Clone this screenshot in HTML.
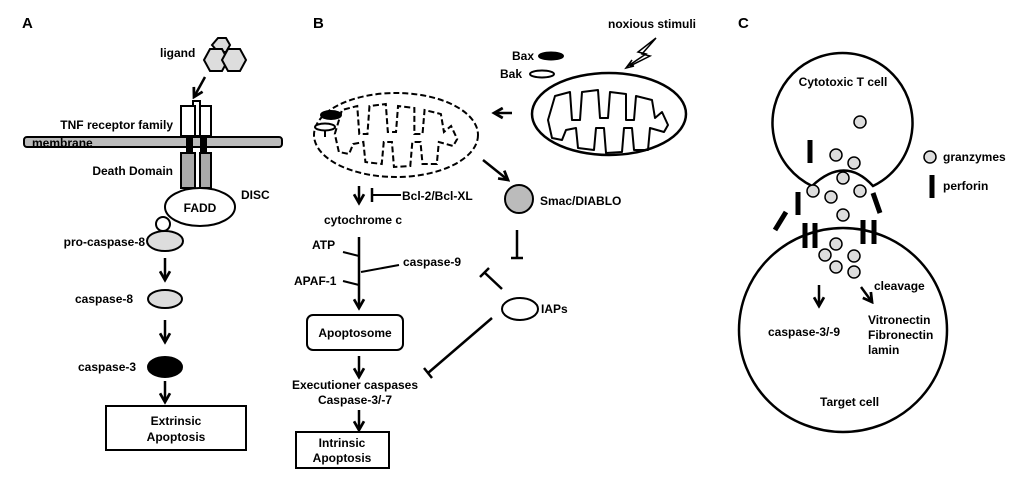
<!DOCTYPE html>
<html><head><meta charset="utf-8"><style>
html,body{margin:0;padding:0;background:#fff}
svg{display:block}
text{font-family:"Liberation Sans",Arial,sans-serif;font-weight:bold;fill:#000}
</style></head><body>
<svg width="1024" height="482" viewBox="0 0 1024 482" xmlns="http://www.w3.org/2000/svg" font-size="12">
<defs>
<marker id="ah" viewBox="0 0 10 10" refX="8" refY="5" markerWidth="5" markerHeight="5" orient="auto"><path d="M1,1 L8,5 L1,9" fill="none" stroke="#000" stroke-width="2.2"/></marker>
<path id="cr" d="M548,120 L555,96 L570,92 L572,120 L580,120 L582,92 L598,90 L600,118 L608,118 L610,92 L626,94 L626,120 L634,120 L636,96 L652,100 L655,118 L662,112 L668,125 L664,132 L650,128 L648,150 L634,150 L632,128 L624,128 L622,152 L606,153 L604,128 L596,128 L594,150 L578,148 L576,128 L566,130 L562,140 L552,138 Z"/>
</defs>
<g stroke="#000" stroke-width="2" fill="none">
<!-- Panel A -->
<polygon points="212,45 218,38 226,38 230,45 226,52 218,52" fill="#ddd"/>
<polygon points="204,60 210,49 222,49 228,60 222,71 210,71" fill="#ddd"/>
<polygon points="222,60 228,49 240,49 246,60 240,71 228,71" fill="#ddd"/>
<line x1="205" y1="77" x2="194" y2="97" stroke-width="2.5" marker-end="url(#ah)"/>
<rect x="193" y="101" width="7" height="35" fill="#fff"/>
<rect x="181" y="106" width="14" height="30" fill="#fff"/>
<rect x="200" y="106" width="11" height="30" fill="#fff"/>
<rect x="24" y="137" width="258" height="10" rx="3" fill="#bbb"/>
<rect x="187" y="136" width="5" height="17" fill="#000"/>
<rect x="201" y="136" width="5" height="17" fill="#000"/>
<rect x="181" y="153" width="14" height="35" fill="#aaa"/>
<rect x="200" y="153" width="11" height="35" fill="#aaa"/>
<ellipse cx="200" cy="207" rx="35" ry="19" fill="#fff"/>
<circle cx="163" cy="224" r="7" fill="#fff"/>
<ellipse cx="165" cy="241" rx="18" ry="10" fill="#ddd"/>
<line x1="165" y1="258" x2="165" y2="280" stroke-width="2.5" marker-end="url(#ah)"/>
<ellipse cx="165" cy="299" rx="17" ry="9" fill="#ddd"/>
<line x1="165" y1="320" x2="165" y2="342" stroke-width="2.5" marker-end="url(#ah)"/>
<ellipse cx="165" cy="367" rx="17" ry="10" fill="#000"/>
<line x1="165" y1="381" x2="165" y2="402" stroke-width="2.5" marker-end="url(#ah)"/>
<rect x="106" y="406" width="140" height="44" fill="#fff"/>

<!-- Panel B -->
<polygon points="656,38 638,52 646,54 628,66 632,60 626,68 634,66 630,66 650,56 642,54" stroke-width="1.5" fill="#fff"/>
<ellipse cx="551" cy="56" rx="12" ry="3.5" fill="#000"/>
<ellipse cx="542" cy="74" rx="12" ry="3.5" fill="#fff"/>
<ellipse cx="609" cy="114" rx="77" ry="41" fill="#fff" stroke-width="2.5"/>
<use href="#cr" stroke-width="2" stroke-linejoin="round"/>
<line x1="512" y1="113" x2="494" y2="113" stroke-width="2.5" marker-end="url(#ah)"/>
<ellipse cx="396" cy="135" rx="82" ry="42" fill="#fff" stroke-dasharray="6,3"/>
<g transform="translate(396,135) scale(1.02,1.0) translate(-608,-121)"><use href="#cr" stroke-dasharray="6,3" stroke-width="2"/></g>
<ellipse cx="331" cy="115" rx="10" ry="4" fill="#000"/>
<ellipse cx="325" cy="127" rx="10" ry="3.5" fill="#fff"/>
<line x1="325" y1="131" x2="325" y2="137"/>
<line x1="483" y1="160" x2="508" y2="180" stroke-width="2.5" marker-end="url(#ah)"/>
<circle cx="519" cy="199" r="14" fill="#bbb"/>
<line x1="359" y1="186" x2="359" y2="203" stroke-width="2.5" marker-end="url(#ah)"/>
<line x1="372" y1="188" x2="372" y2="202" stroke-width="2.5"/>
<line x1="372" y1="195" x2="401" y2="195"/>
<line x1="359" y1="237" x2="359" y2="308" stroke-width="2.5" marker-end="url(#ah)"/>
<line x1="343" y1="252" x2="359" y2="256"/>
<line x1="343" y1="281" x2="359" y2="285"/>
<line x1="399" y1="265" x2="361" y2="272"/>
<line x1="517" y1="230" x2="517" y2="258" stroke-width="2.5"/>
<line x1="511" y1="258" x2="523" y2="258" stroke-width="2.5"/>
<ellipse cx="520" cy="309" rx="18" ry="11" fill="#fff"/>
<line x1="502" y1="289" x2="485" y2="273" stroke-width="2.5"/>
<line x1="480" y1="277" x2="489" y2="268" stroke-width="2.5"/>
<line x1="492" y1="318" x2="428" y2="373" stroke-width="2.5"/>
<line x1="424" y1="368" x2="432" y2="378" stroke-width="2.5"/>
<rect x="307" y="315" width="96" height="35" rx="6" fill="#fff"/>
<line x1="359" y1="356" x2="359" y2="377" stroke-width="2.5" marker-end="url(#ah)"/>
<line x1="359" y1="410" x2="359" y2="430" stroke-width="2.5" marker-end="url(#ah)"/>
<rect x="296" y="432" width="93" height="36" fill="#fff"/>

<!-- Panel C -->
<path d="M812,186 A70,70 0 1 1 873,186 Q845,155 812,186" fill="#fff" stroke-width="2.5"/>
<ellipse cx="843" cy="330" rx="104" ry="102" fill="#fff" stroke-width="2.5"/>
<g stroke-width="1.5" fill="#ddd">
<circle cx="860" cy="122" r="6"/><circle cx="836" cy="155" r="6"/><circle cx="854" cy="163" r="6"/>
<circle cx="843" cy="178" r="6"/><circle cx="813" cy="191" r="6"/><circle cx="831" cy="197" r="6"/>
<circle cx="860" cy="191" r="6"/><circle cx="843" cy="215" r="6"/><circle cx="836" cy="244" r="6"/>
<circle cx="825" cy="255" r="6"/><circle cx="854" cy="256" r="6"/><circle cx="836" cy="267" r="6"/>
<circle cx="854" cy="272" r="6"/><circle cx="930" cy="157" r="6"/>
</g>
<g stroke-width="5">
<line x1="810" y1="140" x2="810" y2="163"/>
<line x1="798" y1="192" x2="798" y2="215"/>
<line x1="786" y1="212" x2="775" y2="230"/>
<line x1="873" y1="193" x2="880" y2="213"/>
<line x1="805" y1="223" x2="805" y2="248"/>
<line x1="815" y1="223" x2="815" y2="248"/>
<line x1="863" y1="220" x2="863" y2="244"/>
<line x1="874" y1="220" x2="874" y2="244"/>
<line x1="932" y1="175" x2="932" y2="198"/>
</g>
<line x1="819" y1="285" x2="819" y2="306" stroke-width="2.5" marker-end="url(#ah)"/>
<line x1="861" y1="287" x2="872" y2="302" stroke-width="2.5" marker-end="url(#ah)"/>
</g>

<text x="22" y="28" font-size="15">A</text>
<text x="160" y="57">ligand</text>
<text x="173" y="129" text-anchor="end">TNF receptor family</text>
<text x="32" y="147">membrane</text>
<text x="173" y="175" text-anchor="end">Death Domain</text>
<text x="200" y="212" text-anchor="middle">FADD</text>
<text x="241" y="199">DISC</text>
<text x="145" y="246" text-anchor="end">pro-caspase-8</text>
<text x="75" y="303">caspase-8</text>
<text x="78" y="371">caspase-3</text>
<text x="176" y="425" text-anchor="middle">Extrinsic</text>
<text x="176" y="441" text-anchor="middle">Apoptosis</text>

<text x="313" y="28" font-size="15">B</text>
<text x="608" y="28">noxious stimuli</text>
<text x="512" y="60">Bax</text>
<text x="500" y="78">Bak</text>
<text x="402" y="200">Bcl-2/Bcl-XL</text>
<text x="540" y="205">Smac/DIABLO</text>
<text x="324" y="224">cytochrome c</text>
<text x="312" y="249">ATP</text>
<text x="294" y="285">APAF-1</text>
<text x="403" y="266">caspase-9</text>
<text x="541" y="313">IAPs</text>
<text x="355" y="337" text-anchor="middle">Apoptosome</text>
<text x="355" y="389" text-anchor="middle">Executioner caspases</text>
<text x="355" y="404" text-anchor="middle">Caspase-3/-7</text>
<text x="342" y="447" text-anchor="middle">Intrinsic</text>
<text x="342" y="462" text-anchor="middle">Apoptosis</text>

<text x="738" y="28" font-size="15">C</text>
<text x="843" y="86" text-anchor="middle">Cytotoxic T cell</text>
<text x="943" y="161">granzymes</text>
<text x="943" y="190">perforin</text>
<text x="874" y="290">cleavage</text>
<text x="768" y="336">caspase-3/-9</text>
<text x="868" y="324">Vitronectin</text>
<text x="868" y="339">Fibronectin</text>
<text x="868" y="354">lamin</text>
<text x="820" y="406">Target cell</text>
</svg>
</body></html>
